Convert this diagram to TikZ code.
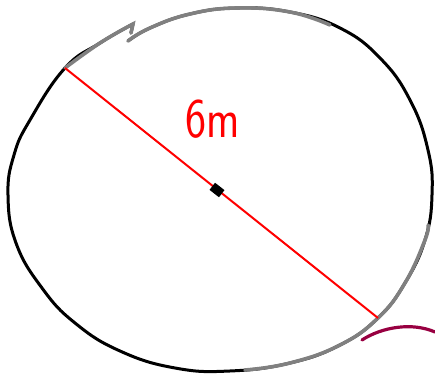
\documentclass[tikz,border=0pt]{standalone}
\usetikzlibrary{positioning}

\begin{document}
\begin{tikzpicture}[
    x=0.5pt, y=-0.5pt,
    rim/.style={line width=1.5pt, draw=black, line cap=round, line join=round},
    worn/.style={line width=1.8pt, draw=black!50, line cap=round},
    diameter/.style={line width=1pt, draw=red},
    centremark/.style={rectangle, fill=black, minimum width=6pt, minimum height=4.5pt, inner sep=0pt, rotate=-38},
    tag/.style={text=red, font=\sffamily\fontsize{28}{28}\selectfont, xscale=0.8, anchor=base},
    smudge/.style={line width=1.6pt, draw=violet!60!red!85!black, line cap=round}
]
\useasboundingbox (0,0) rectangle (435,379);

% Outline of the circle
\draw[rim] plot[smooth, tension=0.75] coordinates {(128,41) (150,28) (190,14) (237,8) (290,12) (340,28) (380,58) (410,100) (428,150) (432,195) (425,240) (405,283) (378,318) (340,345) (290,363) (230,371) (175,368) (120,351) (75,323) (42,288) (16,243) (8,195) (14,155) (30,120) (65,68) (100,43) (133,24)} -- (131,33);

% Worn (grey) parts of the stroke
\draw[worn] plot[smooth, tension=0.75] coordinates {(128,41) (150,28) (190,14) (237,8) (290,12) (330,25)};
\draw[worn] plot[smooth, tension=0.75] coordinates {(65,68) (100,43) (133,24)} -- (131,33);
\draw[worn] plot[smooth, tension=0.75] coordinates {(428,225) (425,240) (405,283) (378,318) (340,345) (290,363) (245,370)};

% Diameter
\coordinate (top) at (65,68);
\coordinate (bottom) at (378,318);
\draw[diameter] (top) -- (bottom);
\node[centremark] (centre) at (217,190) {};

% Label
\node[tag] (size) at (213,138) {6m};

% Stray stroke
\draw[smudge] (362,340) .. controls (382,327) and (412,322) .. (435,332);

\end{tikzpicture}
\end{document}
